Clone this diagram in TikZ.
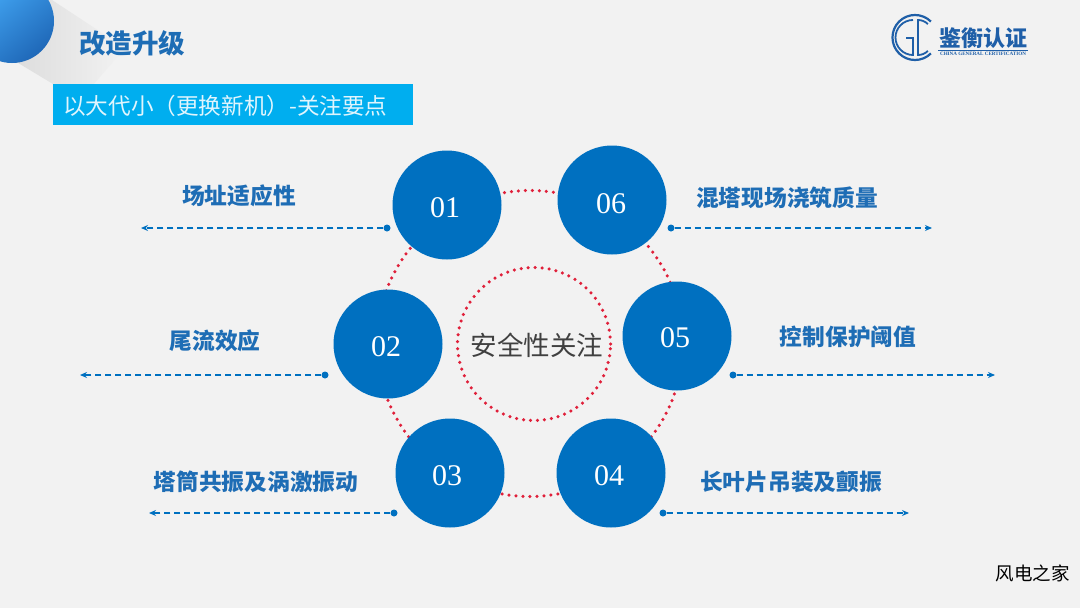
\documentclass[tikz,border=0pt]{standalone}
\usepackage{fontspec}
\setmainfont{Liberation Serif}
\newfontfamily\cjk{Noto Sans CJK SC}
\newcommand{\cjkb}{\cjk\bfseries}
\usetikzlibrary{arrows.meta}
\definecolor{bg}{HTML}{F2F2F2}
\definecolor{discblue}{HTML}{0070C0}
\definecolor{labelblue}{HTML}{1E6DB5}
\definecolor{dotred}{HTML}{E0203A}
\definecolor{logoblue}{HTML}{1F5FA8}
\definecolor{bannerblue}{HTML}{00AEEF}
\definecolor{balllight}{HTML}{45AAF7}
\definecolor{balldark}{HTML}{1F68B8}
\tikzset{
  x=1pt,y=-1pt,
  disc/.style={circle,fill=discblue,minimum size=109pt,inner sep=0pt},
  numtext/.style={text=white,inner sep=0pt,font=\fontsize{30}{30}\selectfont},
  ringline/.style={circle,draw=dotred,line width=3.5pt,dash pattern=on 0pt off 7pt,line cap=round,inner sep=0pt},
  lab/.style={text=labelblue,font=\cjkb\fontsize{22.7}{24}\selectfont,inner sep=0pt},
  anchorpt/.style={circle,fill=discblue,minimum size=7pt,inner sep=0pt},
  leader/.style={draw=discblue,line width=1.2pt,dash pattern=on 6pt off 4pt,-{Stealth[length=7pt,width=6pt,fill=discblue]}},
  logoarc/.style={draw=logoblue,line width=2.2pt}
}
\begin{document}
\begin{tikzpicture}
\useasboundingbox (0,0) rectangle (1080,608);
\fill[bg] (0,0) rectangle (1080,608);
% corner decoration
\shade[left color=black!10!bg,right color=bg]
  (45,0) -- (52,0) -- (125,48) -- (80,100) -- (53,84) -- (0,52) -- cycle;
\begin{scope}
\clip (0,0) rectangle (60,70);
\shade[left color=balllight,right color=balldark,shading angle=40] (12,21) circle (42);
\end{scope}
\node[text=labelblue,font=\cjkb\fontsize{26.5}{28}\selectfont,inner sep=0pt] (title) at (132,43) {改造升级};
\fill[bannerblue] (53,84) rectangle (413,125);
\node[text=white!88!cyan,font=\cjk\fontsize{22.6}{24}\selectfont,inner sep=0pt,anchor=west] (banner) at (63,106) {以大代小（更换新机）-关注要点};
% logo
\draw[logoarc] (930.9,53.4) arc (45:315:22.5);
\draw[logoarc,line width=1.8pt] (906,38) -- (913,38) -- (913,55) arc (90:270:17.5);
\draw[logoarc,line width=1.8pt] (927.9,24.1) arc (315:270:14) -- (918,55) arc (90:45:14);
\node[text=logoblue,font=\cjkb\fontsize{22}{22}\selectfont,inner sep=0pt] (logotext) at (983,38) {鉴衡认证};
\draw[logoblue,line width=1pt] (938,50.5) -- (1028,50.5);
\node[text=logoblue,font=\bfseries\fontsize{5.1}{6}\selectfont,inner sep=0pt] (logosub) at (983,53.5) {CHINA GENERAL CERTIFICATION};
% rings
\node[ringline,minimum size=306pt] (ring) at (530,343.5) {};
\node[ringline,minimum size=153pt] (inner) at (534,344) {};
\node[text=black!75,font=\cjk\fontsize{26.5}{28}\selectfont,inner sep=0pt] (centre) at (537,345) {安全性关注};
% discs
\node[disc] (d1) at (447,205) {};
\node[disc] (d2) at (388,344) {};
\node[disc] (d3) at (450,473) {};
\node[disc] (d4) at (611,473) {};
\node[disc] (d5) at (677,336) {};
\node[disc] (d6) at (612,200) {};
\node[numtext] (n1) at (445,208) {01};
\node[numtext] (n2) at (386,347) {02};
\node[numtext] (n3) at (447,476) {03};
\node[numtext] (n4) at (609,476) {04};
\node[numtext] (n5) at (675,338) {05};
\node[numtext] (n6) at (611,204) {06};
% labels
\node[lab] (l1) at (239,196) {场址适应性};
\node[lab] (l2) at (215,341) {尾流效应};
\node[lab] (l3) at (256,482) {塔筒共振及涡激振动};
\node[lab] (l4) at (791,482) {长叶片吊装及颤振};
\node[lab] (l5) at (848,337) {控制保护阈值};
\node[lab] (l6) at (787,198) {混塔现场浇筑质量};
% leaders
\node[anchorpt] (p1) at (387,228) {};
\node[anchorpt] (p2) at (325,375) {};
\node[anchorpt] (p3) at (394,513) {};
\node[anchorpt] (p4) at (663,513) {};
\node[anchorpt] (p5) at (733,375) {};
\node[anchorpt] (p6) at (671,228) {};
\coordinate (e1) at (141,228);
\coordinate (e2) at (80,375);
\coordinate (e3) at (149,513);
\coordinate (e4) at (909,513);
\coordinate (e5) at (995,375);
\coordinate (e6) at (932,228);
\foreach \i in {1,...,6} \draw[leader] (p\i) -- (e\i);
\node[text=black,font=\cjk\fontsize{18.5}{20}\selectfont,inner sep=0pt] (mark) at (1032.5,573) {风电之家};
\end{tikzpicture}
\end{document}
